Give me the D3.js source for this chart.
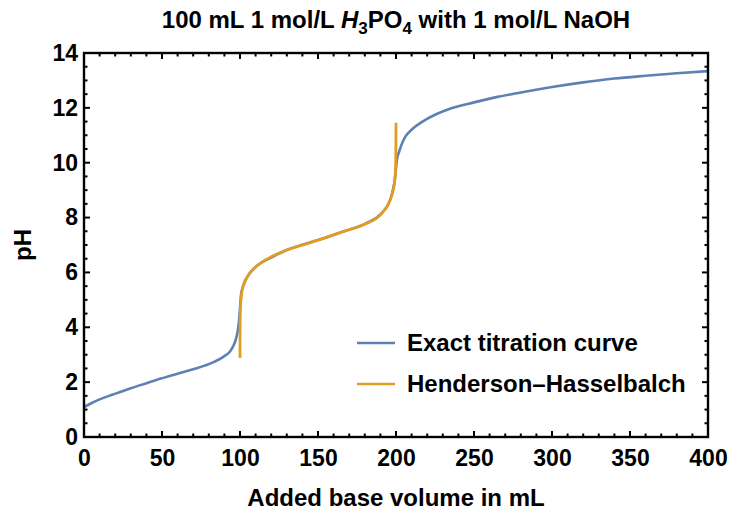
<!DOCTYPE html>
<html>
<head>
<meta charset="utf-8">
<script src="https://cdn.jsdelivr.net/npm/d3@7"></script>
<style>
  body { margin: 0; background: #fff; }
  svg { display: block; font-family: "Liberation Sans", Arial, sans-serif; font-weight: bold; }
</style>
</head>
<body>
<svg id="chart"></svg>
<script>
// exact titration curve
const exactVol = [0, 5, 10, 18.6, 30, 40, 50, 61.5, 70, 82.7, 90, 93.6, 96, 97, 98.5, 99.3, 100, 100.7, 102, 106, 110, 121, 130, 143, 150, 164, 181, 190, 196, 198, 199.3, 200, 200.7, 202, 203.5, 206, 210, 217, 225, 235, 250, 265, 280, 300, 320, 340, 360, 380, 400];
const exactPH = [1.09, 1.24, 1.37, 1.55, 1.78, 1.96, 2.14, 2.33, 2.47, 2.72, 2.95, 3.12, 3.35, 3.5, 3.85, 4.2, 4.7, 5.2, 5.5, 5.95, 6.2, 6.57, 6.82, 7.06, 7.18, 7.45, 7.8, 8.12, 8.6, 9.0, 9.4, 9.8, 10.15, 10.4, 10.65, 10.95, 11.2, 11.5, 11.75, 11.98, 12.2, 12.4, 12.56, 12.76, 12.93, 13.07, 13.17, 13.26, 13.34];

// Henderson-Hasselbalch approximation
const hhVol = [100.003, 100.02, 100.1, 100.3, 100.8, 102, 106, 110, 121, 130, 143, 150, 164, 181, 190, 196, 198, 199.3, 199.8, 199.95, 199.99];
const hhPH = [2.88, 3.5, 4.2, 4.7, 5.1, 5.5, 5.95, 6.2, 6.6, 6.82, 7.05, 7.18, 7.45, 7.78, 8.1, 8.6, 8.95, 9.4, 10.0, 10.7, 11.46];

const seriesNames = ["Exact titration curve", "Henderson\u2013Hasselbalch"];
const seriesColors = ["#5E81B5", "#E19C24"];

const xTicks = [0, 50, 100, 150, 200, 250, 300, 350, 400];
const yTicks = [0, 2, 4, 6, 8, 10, 12, 14];

const width = 732, height = 515;
const margin = { top: 53, right: 24, bottom: 78, left: 84 };

const svg = d3.select("#chart").attr("width", width).attr("height", height);

const x = d3.scaleLinear().domain([0, 400]).range([margin.left, width - margin.right]);
const y = d3.scaleLinear().domain([0, 14]).range([height - margin.bottom, margin.top]);

// clip for the curves
svg.append("clipPath").attr("id", "plotClip")
  .append("rect")
  .attr("x", margin.left).attr("y", margin.top)
  .attr("width", x(400) - x(0)).attr("height", y(0) - y(14));

const line = d3.line()
  .x(d => x(d[0]))
  .y(d => y(d[1]))
  .curve(d3.curveMonotoneX);

const exactData = exactVol.map((v, i) => [v, exactPH[i]]);
const hhData = hhVol.map((v, i) => [v, hhPH[i]]);

const curves = svg.append("g").attr("clip-path", "url(#plotClip)");
curves.append("path")
  .datum(exactData)
  .attr("d", line)
  .attr("fill", "none")
  .attr("stroke", seriesColors[0])
  .attr("stroke-width", 2.6);
curves.append("path")
  .datum(hhData)
  .attr("d", line)
  .attr("fill", "none")
  .attr("stroke", seriesColors[1])
  .attr("stroke-width", 2.8);

// frame with inward ticks on all sides
const xMinor = d3.range(0, 401, 10);
const yMinor = d3.range(0, 14.01, 0.5);
const majLen = 6, minLen = 3.5;

const bottomAxis = d3.axisBottom(x).tickValues(xTicks).tickSize(0).tickPadding(13).tickFormat(d3.format("d"));
const leftAxis = d3.axisLeft(y).tickValues(yTicks).tickSize(0).tickPadding(6).tickFormat(d3.format("d"));

const gx = svg.append("g")
  .attr("transform", `translate(0,${y(0)})`)
  .call(bottomAxis);
const gy = svg.append("g")
  .attr("transform", `translate(${x(0)},0)`)
  .call(leftAxis);
[gx, gy].forEach(g => {
  g.select(".domain").remove();
  g.selectAll("text")
    .attr("font-family", "Liberation Sans, Arial, sans-serif")
    .attr("font-weight", "bold")
    .attr("font-size", 23)
    .attr("fill", "#000");
});

const ticks = svg.append("g").attr("stroke", "#000").attr("stroke-width", 2);
xMinor.forEach(v => {
  const len = v % 50 === 0 ? majLen : minLen;
  ticks.append("line").attr("x1", x(v)).attr("x2", x(v)).attr("y1", y(0)).attr("y2", y(0) - len);
  ticks.append("line").attr("x1", x(v)).attr("x2", x(v)).attr("y1", y(14)).attr("y2", y(14) + len);
});
yMinor.forEach(v => {
  const len = v % 2 === 0 ? majLen : minLen;
  ticks.append("line").attr("x1", x(0)).attr("x2", x(0) + len).attr("y1", y(v)).attr("y2", y(v));
  ticks.append("line").attr("x1", x(400)).attr("x2", x(400) - len).attr("y1", y(v)).attr("y2", y(v));
});

svg.append("rect")
  .attr("x", x(0)).attr("y", y(14))
  .attr("width", x(400) - x(0)).attr("height", y(0) - y(14))
  .attr("fill", "none")
  .attr("stroke", "#000")
  .attr("stroke-width", 2.4);

// title with chemical formula
const title = svg.append("text")
  .attr("x", (x(0) + x(400)) / 2)
  .attr("y", 28)
  .attr("text-anchor", "middle")
  .attr("font-size", 24);
title.append("tspan").text("100 mL 1 mol/L ");
title.append("tspan").attr("font-style", "italic").text("H");
title.append("tspan").attr("font-size", 17).attr("dy", 6).text("3");
title.append("tspan").attr("dy", -6).text("PO");
title.append("tspan").attr("font-size", 17).attr("dy", 6).text("4");
title.append("tspan").attr("dy", -6).text(" with 1 mol/L NaOH");

// axis labels
svg.append("text")
  .attr("x", (x(0) + x(400)) / 2)
  .attr("y", 506)
  .attr("text-anchor", "middle")
  .attr("font-size", 24)
  .text("Added base volume in mL");

svg.append("text")
  .attr("transform", `translate(31,${(y(0) + y(14)) / 2}) rotate(-90)`)
  .attr("text-anchor", "middle")
  .attr("font-size", 24)
  .text("pH");

// legend
const legend = svg.append("g");
seriesNames.forEach((name, i) => {
  const ly = 343 + i * 41;
  legend.append("line")
    .attr("x1", 357).attr("x2", 395)
    .attr("y1", ly).attr("y2", ly)
    .attr("stroke", seriesColors[i])
    .attr("stroke-width", 2.6);
  legend.append("text")
    .attr("x", 407).attr("y", ly + 8)
    .attr("font-size", 24)
    .text(name);
});
</script>
</body>
</html>
